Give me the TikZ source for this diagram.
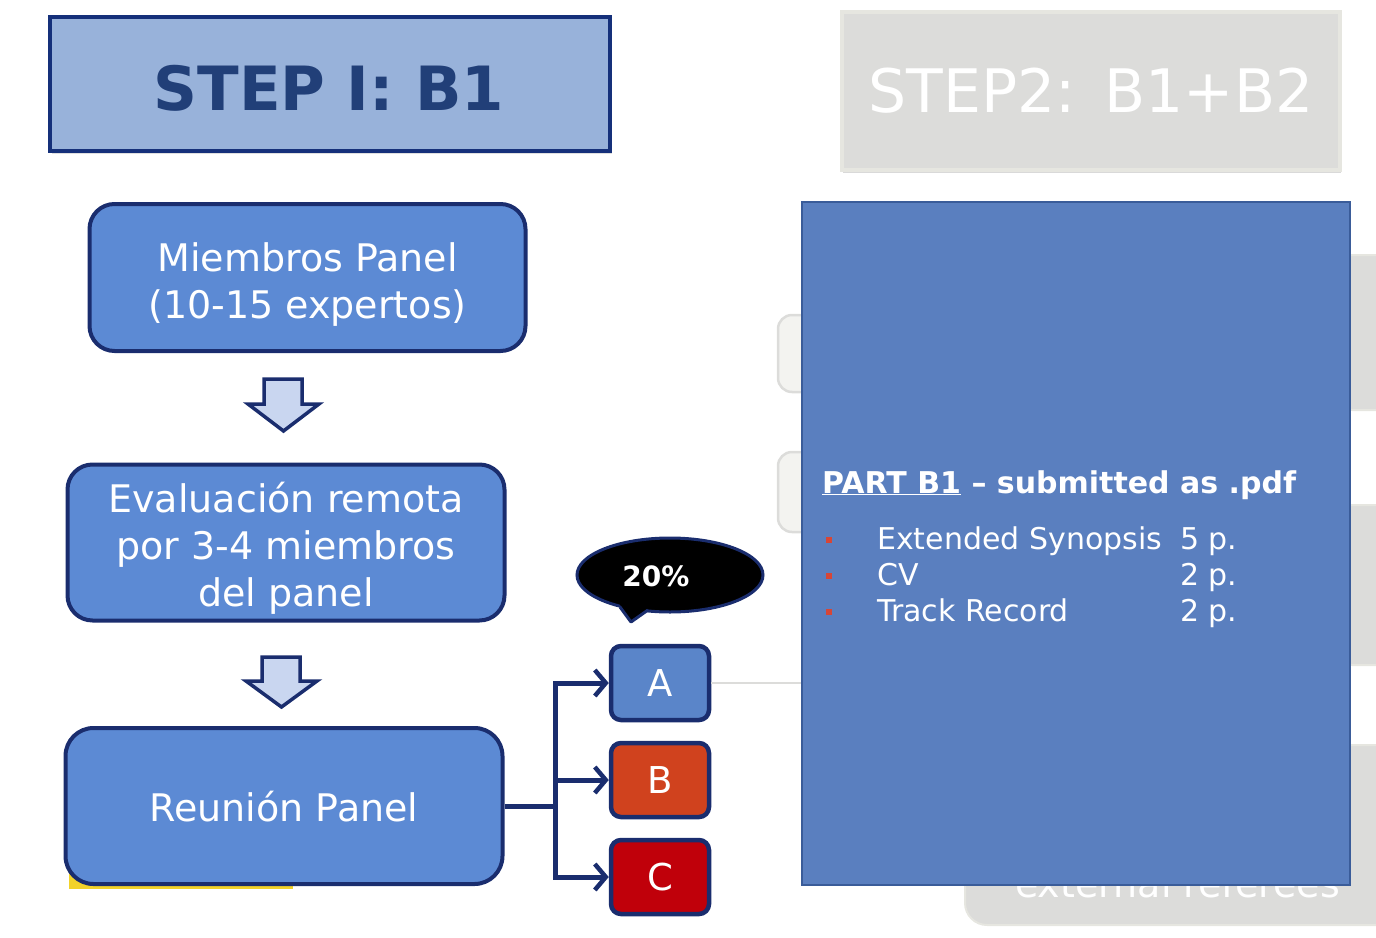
\documentclass[tikz,border=0pt]{standalone}
\usepackage{fontspec}
\setmainfont{DejaVu Sans}
\usetikzlibrary{arrows.meta,shapes.geometric,shadows}
\definecolor{navy}{RGB}{26,45,110}
\definecolor{boxblue}{RGB}{92,138,212}
\definecolor{stepfill}{RGB}{152,178,218}
\definecolor{stepborder}{RGB}{21,48,122}
\definecolor{steptext}{RGB}{33,63,120}
\definecolor{bigblue}{RGB}{90,127,191}
\definecolor{bigborder}{RGB}{58,92,153}
\definecolor{ablue}{RGB}{90,133,201}
\definecolor{bred}{RGB}{208,66,30}
\definecolor{cred}{RGB}{192,0,10}
\definecolor{arrowfill}{RGB}{201,214,240}
\definecolor{ghost}{RGB}{220,220,218}
\definecolor{ghostedge}{RGB}{230,230,224}
\definecolor{ghostlight}{RGB}{243,243,240}
\definecolor{bulletred}{RGB}{214,70,55}
\definecolor{yell}{RGB}{242,210,42}
\tikzset{
  flowbox/.style={draw=navy, line width=4pt, fill=boxblue, rounded corners=25pt},
  flowtext/.style={text=white, align=center, inner sep=0pt, font=\fontsize{38}{47}\selectfont},
  letterbox/.style={draw=navy, line width=4.5pt, rounded corners=10pt, text=white,
    minimum width=98pt, minimum height=74pt, font=\fontsize{37}{40}\selectfont},
  blockarrow/.style={draw=navy, line width=3.5pt, fill=arrowfill, line join=miter},
  conn/.style={draw=navy, line width=5pt},
  tipped/.style={conn, -{Straight Barb[length=11pt,width=26pt,line width=4.5pt]}},
  ghostbox/.style={fill=ghost, draw=ghostedge, line width=2pt, rounded corners=22pt},
  itemtext/.style={anchor=base west, text=white, inner sep=0pt, font=\fontsize{30}{34}\selectfont},
  bulletsq/.style={fill=bulletred, draw=none, minimum size=6pt, inner sep=0pt},
}
\begin{document}
\begin{tikzpicture}[x=1pt,y=-1pt]
\useasboundingbox (0,0) rectangle (1376,937);
% ghost background shapes
\draw[ghostbox] (1330,255) rectangle (1420,410);
\draw[ghostbox] (1330,505) rectangle (1420,665);
\draw[ghostbox] (965,745) rectangle (1420,925);
\node[anchor=base west, text=white, inner sep=0pt, font=\fontsize{38}{40}\selectfont] (ext) at (1015,897) {external referees};
\draw[ghostbox, fill=ghostlight, draw=ghost, line width=2.5pt, rounded corners=14pt] (778,315) rectangle (830,392);
\draw[ghostbox, fill=ghostlight, draw=ghost, line width=2.5pt, rounded corners=14pt] (778,452) rectangle (830,532);

% step headers
\node[draw=stepborder, line width=4.5pt, fill=stepfill, minimum width=560pt, minimum height=134pt,
  drop shadow={shadow xshift=2pt, shadow yshift=-3pt, opacity=0.25}] (s1) at (330,84) {};
\node[text=steptext, inner sep=0pt, font=\fontsize{61}{64}\selectfont\bfseries] (s1t) at (329,88) {STEP I: B1};
\node[draw=ghostedge, line width=4pt, fill=ghost, minimum width=498pt, minimum height=158pt,
  drop shadow={shadow xshift=1pt, shadow yshift=-3pt, opacity=0.3},
  text=white, font=\fontsize{60}{62}\selectfont] (s2) at (1091,91) {STEP2:\ \,B1+B2};

% flow boxes
\fill[yell] (69,870) rectangle (293,889);
\node[flowbox, minimum width=436pt, minimum height=147pt] (m) at (307.5,277.5) {};
\node[flowtext] (mt) at (307.5,285) {Miembros Panel\\(10-15 expertos)};
\node[flowbox, minimum width=437pt, minimum height=156pt] (e) at (286,542.5) {};
\node[flowtext] (et) at (286,548) {Evaluación remota\\por 3-4 miembros\\del panel};
\node[flowbox, minimum width=437pt, minimum height=156pt, rounded corners=28pt] (r) at (284,806) {};
\node[flowtext] (rt) at (284,807) {Reunión Panel};

% block arrows
\draw[blockarrow] (264,379) -- (302,379) -- (302,404) -- (319,404) -- (283.5,431) -- (248,404) -- (264,404) -- cycle;
\draw[blockarrow] (262,657) -- (300,657) -- (300,681) -- (317,681) -- (281.5,707) -- (246,681) -- (262,681) -- cycle;

% letter boxes
\node[letterbox, fill=ablue] (A) at (660,683) {A};
\node[letterbox, fill=bred] (B) at (660,780) {B};
\node[letterbox, fill=cred] (C) at (660,877) {C};

% grey line from A to the big box
\draw[ghost, line width=2.5pt] (A.east) -- (802,683);

% connectors
\coordinate (sp) at (555,806);
\draw[conn] (r.east) -- (sp);
\draw[tipped] (sp) |- (A.west);
\draw[tipped] (sp) -- (555,780) -- (B.west);
\draw[tipped] (sp) |- (C.west);

% callout
\node[ellipse, fill=black, draw=navy, line width=3pt, minimum width=186pt, minimum height=74pt] (call) at (670,575) {};
\fill[black] (617,600) -- (631,622) -- (652,605) -- cycle;
\draw[navy, line width=3pt, line join=round] (620,607) -- (631,622) -- (648,610);
\node[text=white, font=\fontsize{28}{30}\selectfont\bfseries] (pct) at (656,576) {20\%};

% big blue box
\node[draw=bigborder, line width=2pt, fill=bigblue, minimum width=548pt, minimum height=683pt] (big) at (1076,543.5) {};
\node[anchor=base west, text=white, inner sep=0pt, font=\fontsize{30}{34}\selectfont\bfseries] (title) at (822,493) {\underline{PART B1} – submitted as .pdf};
\node[bulletsq] (b1) at (829,540) {};
\node[bulletsq] (b2) at (829,576) {};
\node[bulletsq] (b3) at (829,612) {};
\node[itemtext] (i1) at (877,549) {Extended Synopsis};
\node[itemtext] (i2) at (877,585) {CV};
\node[itemtext] (i3) at (877,621) {Track Record};
\node[itemtext] (p1) at (1180,549) {5 p.};
\node[itemtext] (p2) at (1180,585) {2 p.};
\node[itemtext] (p3) at (1180,621) {2 p.};
\end{tikzpicture}
\end{document}
